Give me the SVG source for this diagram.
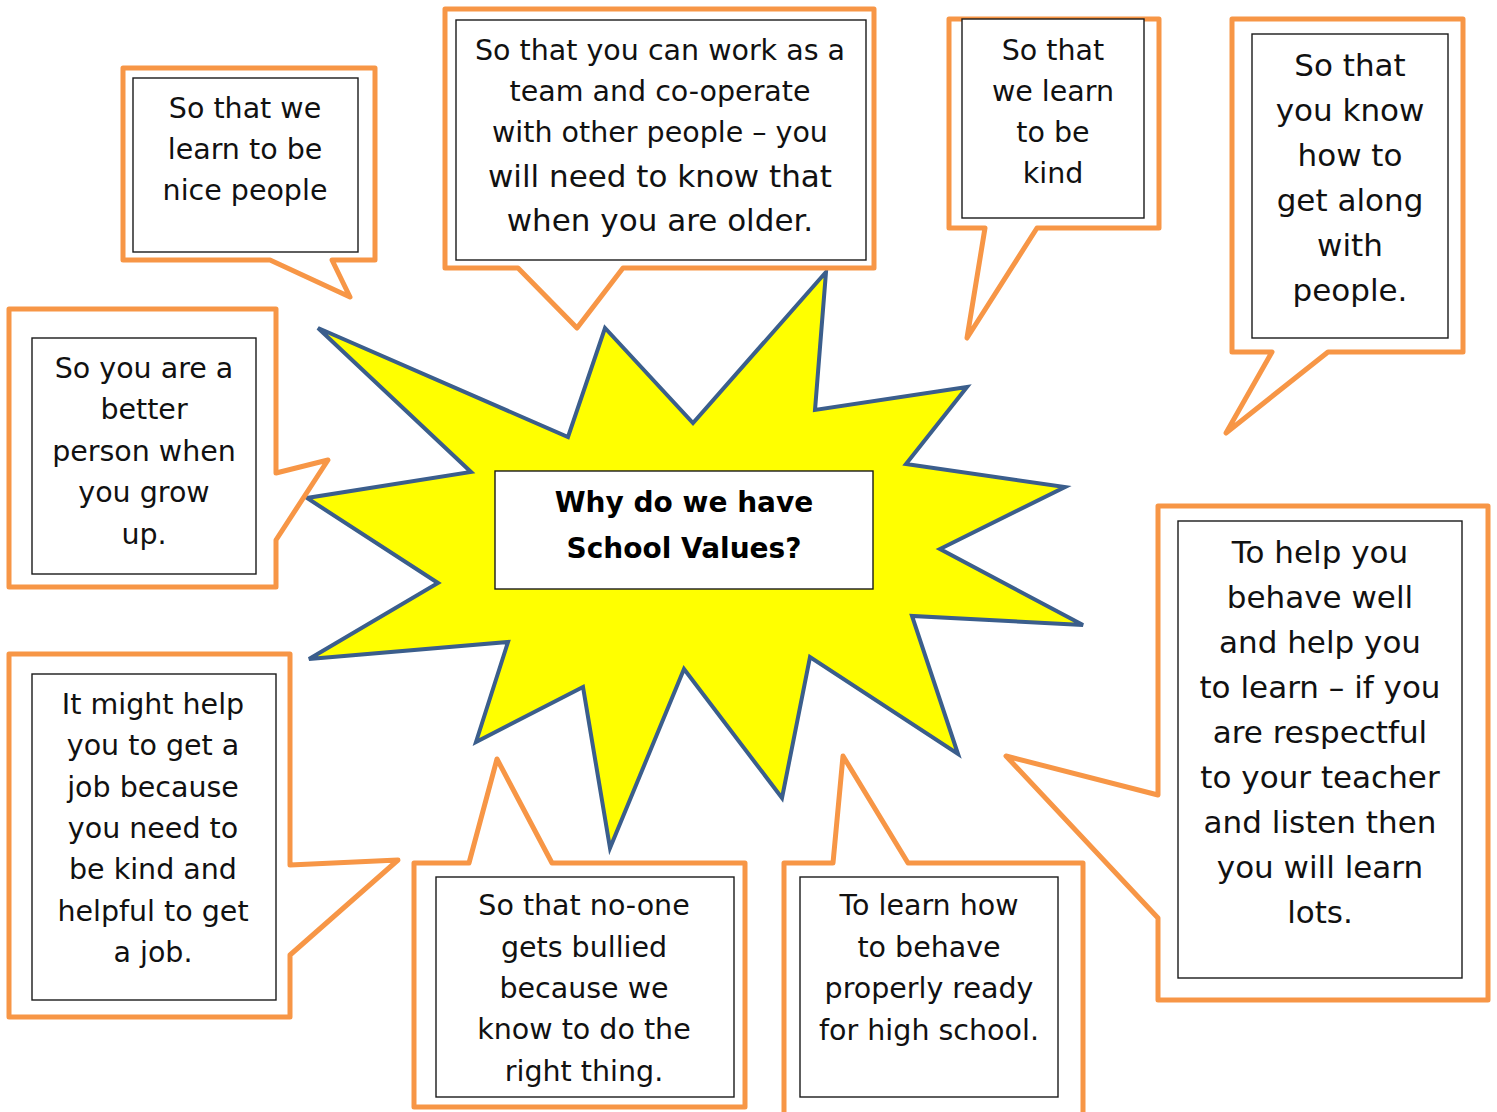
<svg xmlns="http://www.w3.org/2000/svg" width="1497" height="1112" viewBox="0 0 1497 1112">
<style>
.bubble{fill:#ffffff;stroke:#F79646;stroke-width:5;stroke-linejoin:round}
.inner{fill:#ffffff;stroke:#1a1a1a;stroke-width:1.4}
.t{font-family:"DejaVu Sans","Liberation Sans",sans-serif;font-size:28.5px;fill:#111;text-anchor:middle}
.tl{font-size:31px}
.star{fill:#FFFF00;stroke:#3B5E8C;stroke-width:4;stroke-linejoin:miter}
.title{font-family:"DejaVu Sans","Liberation Sans",sans-serif;font-size:28px;font-weight:bold;fill:#000;text-anchor:middle}
</style>
<rect width="1497" height="1112" fill="#ffffff"/>
<g id="connectors"></g>
<g id="burst">
<polygon class="star" points="318,328 568,437 605,328 693,423 826,272 815,410 967,387 906,464 1065,487 940,549 1083,625 912,616 958,754 810,657 782,798 684,669 610,848 583,687 476,742 508,642 309,659 438,583 307,498 471,472"/>
<rect class="inner" x="495" y="471" width="378" height="118"/>
<text class="title" x="684" y="512">Why do we have</text>
<text class="title" x="684" y="558">School Values?</text>
</g>
<g id="c1">
<path class="bubble" d="M123,68 H375 V260 H332 L350,297 L270,260 H123 Z"/>
<rect class="inner" x="133" y="78" width="225" height="174"/>
<text class="t" x="245" y="118">So that we</text>
<text class="t" x="245" y="159">learn to be</text>
<text class="t" x="245" y="200">nice people</text>
</g>
<g id="c2">
<path class="bubble" d="M445,9 H874 V268 H623 L577,328 L518,268 H445 Z"/>
<rect class="inner" x="456" y="20" width="410" height="240"/>
<text class="t" x="660" y="60">So that you can work as a</text>
<text class="t" x="660" y="101">team and co-operate</text>
<text class="t" x="660" y="142">with other people – you</text>
<text class="t tl" x="660" y="187">will need to know that</text>
<text class="t tl" x="660" y="231">when you are older.</text>
</g>
<g id="c3">
<path class="bubble" d="M949,19 H1159 V228 H1037 L967,338 L985,228 H949 Z"/>
<rect class="inner" x="962" y="19" width="182" height="199"/>
<text class="t" x="1053" y="60">So that</text>
<text class="t" x="1053" y="101">we learn</text>
<text class="t" x="1053" y="142">to be</text>
<text class="t" x="1053" y="183">kind</text>
</g>
<g id="c4">
<path class="bubble" d="M1232,19 H1463 V352 H1328 L1226,433 L1272,352 H1232 Z"/>
<rect class="inner" x="1252" y="34" width="196" height="304"/>
<text class="t tl" x="1350" y="76">So that</text>
<text class="t tl" x="1350" y="121">you know</text>
<text class="t tl" x="1350" y="166">how to</text>
<text class="t tl" x="1350" y="211">get along</text>
<text class="t tl" x="1350" y="256">with</text>
<text class="t tl" x="1350" y="301">people.</text>
</g>
<g id="c5">
<path class="bubble" d="M9,309 H276 V473 L328,460 L276,540 V587 H9 Z"/>
<rect class="inner" x="32" y="338" width="224" height="236"/>
<text class="t" x="144" y="378">So you are a</text>
<text class="t" x="144" y="419">better</text>
<text class="t" x="144" y="461">person when</text>
<text class="t" x="144" y="502">you grow</text>
<text class="t" x="144" y="544">up.</text>
</g>
<g id="c6">
<path class="bubble" d="M9,654 H290 V865 L398,860 L290,955 V1017 H9 Z"/>
<rect class="inner" x="32" y="674" width="244" height="326"/>
<text class="t" x="153" y="714">It might help</text>
<text class="t" x="153" y="755">you to get a</text>
<text class="t" x="153" y="797">job because</text>
<text class="t" x="153" y="838">you need to</text>
<text class="t" x="153" y="879">be kind and</text>
<text class="t" x="153" y="921">helpful to get</text>
<text class="t" x="153" y="962">a job.</text>
</g>
<g id="c7">
<path class="bubble" d="M414,863 H469 L497,759 L552,863 H745 V1107 H414 Z"/>
<rect class="inner" x="436" y="877" width="298" height="220"/>
<text class="t" x="584" y="915">So that no-one</text>
<text class="t" x="584" y="957">gets bullied</text>
<text class="t" x="584" y="998">because we</text>
<text class="t" x="584" y="1039">know to do the</text>
<text class="t" x="584" y="1081">right thing.</text>
</g>
<g id="c8">
<path class="bubble" d="M784,1120 V863 H833 L843,756 L908,863 H1083 V1120"/>
<rect class="inner" x="800" y="877" width="258" height="220"/>
<text class="t" x="929" y="915">To learn how</text>
<text class="t" x="929" y="957">to behave</text>
<text class="t" x="929" y="998">properly ready</text>
<text class="t" x="929" y="1040">for high school.</text>
</g>
<g id="c9">
<path class="bubble" d="M1158,506 H1488 V1000 H1158 V918 L1006,756 L1158,795 Z"/>
<rect class="inner" x="1178" y="521" width="284" height="457"/>
<text class="t tl" x="1320" y="563">To help you</text>
<text class="t tl" x="1320" y="608">behave well</text>
<text class="t tl" x="1320" y="653">and help you</text>
<text class="t tl" x="1320" y="698">to learn – if you</text>
<text class="t tl" x="1320" y="743">are respectful</text>
<text class="t tl" x="1320" y="788">to your teacher</text>
<text class="t tl" x="1320" y="833">and listen then</text>
<text class="t tl" x="1320" y="878">you will learn</text>
<text class="t tl" x="1320" y="923">lots.</text>
</g>
</svg>
